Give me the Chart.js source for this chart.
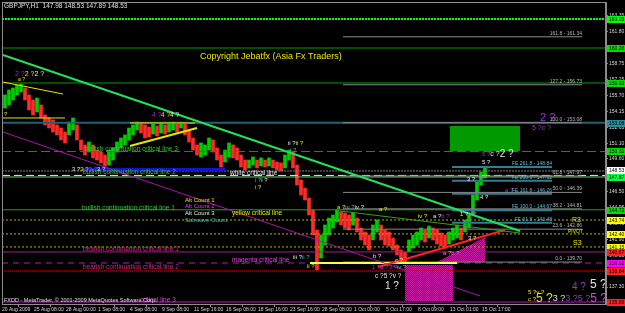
<!DOCTYPE html>
<html>
<head>
<meta charset="utf-8">
<script src="https://cdn.jsdelivr.net/npm/chart.js@4.4.0/dist/chart.umd.min.js"></script>
<style>
  html, body { margin: 0; padding: 0; background: #000; }
  canvas { display: block; }
</style>
</head>
<body>
<canvas id="chart" width="625" height="313"></canvas>
<script>
// GBPJPY H1, one slot ~ a few hours, high/low
const highs = [
  155.75, 156.23, 156.42, 156.71, 156.80, 156.42, 155.75, 155.27, 155.46, 154.79,
  153.83, 153.54, 153.35, 152.87, 152.58, 152.19, 153.15, 153.54, 152.87, 151.43,
  150.95, 151.23, 150.95, 150.46, 150.27, 149.98, 150.46, 150.66, 151.23, 151.62,
  151.91, 152.58, 152.87, 153.15, 153.06, 152.87, 152.67, 152.96, 152.77, 153.06,
  152.87, 152.96, 153.15, 152.96, 153.15, 152.96, 152.39, 151.62, 150.95, 151.14,
  150.95, 151.62, 151.43, 150.66, 149.98, 150.46, 151.14, 150.95, 150.66, 149.98,
  149.50, 149.50, 149.79, 149.50, 149.70, 149.50, 149.70, 149.50, 149.31, 149.22,
  149.98, 150.46, 150.27, 149.02, 147.58, 146.81, 145.85, 144.70, 142.78, 142.30,
  143.26, 143.93, 144.22, 144.70, 144.51, 144.41, 144.22, 144.41, 143.93, 142.97,
  142.59, 142.30, 143.26, 143.74, 143.26, 142.78, 142.59, 142.01, 141.34, 140.86,
  140.67, 141.82, 142.30, 142.59, 142.97, 142.78, 143.16, 142.97, 142.78, 142.49,
  142.30, 142.59, 142.97, 143.26, 142.97, 143.74, 144.22, 146.14, 147.39, 148.35,
  148.74
];
const lows = [
  154.50, 154.79, 155.27, 155.75, 156.04, 155.27, 154.31, 153.83, 154.12, 153.54,
  152.87, 152.58, 152.19, 151.91, 151.43, 151.14, 151.91, 152.39, 151.43, 150.46,
  149.98, 150.27, 149.70, 149.50, 149.22, 148.93, 149.02, 149.50, 150.27, 150.66,
  150.95, 151.43, 151.91, 152.39, 152.10, 151.62, 151.71, 152.00, 151.81, 152.10,
  152.00, 152.19, 152.39, 152.19, 152.58, 151.91, 151.23, 150.46, 149.98, 149.79,
  149.98, 150.46, 150.27, 149.50, 148.83, 149.31, 149.79, 149.70, 149.50, 148.83,
  148.54, 148.74, 149.02, 148.74, 148.93, 148.83, 148.93, 148.74, 148.54, 148.45,
  148.74, 149.50, 148.74, 147.10, 146.14, 145.66, 144.22, 142.30, 138.94, 140.09,
  141.34, 142.30, 142.97, 143.55, 143.26, 142.97, 142.78, 143.26, 142.59, 141.82,
  141.34, 140.86, 141.82, 142.59, 141.82, 141.34, 141.24, 140.86, 140.38, 139.71,
  139.71, 140.67, 141.05, 141.34, 141.82, 141.63, 142.01, 141.82, 141.43, 141.24,
  141.05, 141.43, 141.82, 142.01, 141.82, 142.59, 142.97, 144.22, 145.66, 147.10,
  147.78
];

// axis labels
const priceTicks = [163.35, 161.80, 160.30, 158.75, 157.25, 155.70, 154.15, 152.65, 151.10,
  149.60, 148.05, 146.50, 144.95, 143.40, 141.90, 140.35, 138.80, 137.30];
const dateLabels = ["20 Aug 2009", "25 Aug 08:00", "28 Aug 00:00", "1 Sep 08:00", "4 Sep 08:00",
  "9 Sep 08:00", "11 Sep 16:00", "16 Sep 08:00", "18 Sep 16:00", "23 Sep 16:00", "28 Sep 08:00",
  "1 Oct 00:00", "5 Oct 17:00", "8 Oct 09:00", "13 Oct 01:00", "15 Oct 17:00"];
const dateTicks = [-0.75, 7.25, 15.25, 23.25, 31.25, 39.25, 47.25, 55.25, 63.25, 71.25, 79.25,
  87.25, 95.25, 103.25, 111.25, 119.25];

// horizontal levels across the whole chart
const levelPrices = [163.05, 160.26, 156.90, 153.08, 150.32, 148.45, 148.02, 147.87, 144.72,
  143.74, 142.40, 141.15, 140.67, 139.61, 138.84, 135.86];
// price tags on the right axis
const tagPrices = [163.05, 160.26, 156.90, 153.08, 150.32, 148.53, 147.87, 144.72, 143.74,
  142.40, 141.15, 140.67, 139.61, 138.84, 135.86];

// fibo retracement 139.70 -> 153.08
const fibLevels = ["0.0", "23.6", "38.2", "50.0", "61.8", "100.0", "127.2", "161.8"];
const fibPrices = [139.70, 142.86, 144.81, 146.39, 147.97, 153.08, 156.73, 161.34];
const fibSpan = [84.5, 144.25];
// fibo expansion
const feLevels = ["261.8", "200.0", "161.8", "100.0", "61.8"];
const fePrices = [148.84, 147.52, 146.26, 144.67, 143.48];
const feSpan = [111.75, 136.75];

// trend lines: [bar, price] -> [bar, price]
const trendLines = [
  [[-0.5, 159.59], [128.75, 142.68]],
  [[83.75, 144.61], [128.75, 142.49]],
  [[-0.5, 152.19], [118.75, 136.44]],
  [[93.25, 139.23], [125, 142.78]],
  [[-0.5, 156.99], [14.5, 155.84]],
  [[-0.5, 153.54], [15, 153.54]],
  [[31.25, 150.85], [48, 152.58]],
  [[31.25, 153.06], [47.5, 153.06]],
  [[76.25, 139.61], [113, 139.61]],
  [[19.5, 148.59], [55, 148.59]]
];

// filled boxes: top edge and base price
const greenBox = [[111.25, 152.77], [128.75, 152.77]];
const greenBoxBase = 150.37;
const pinkBox = [[100, 139.42], [112, 139.42]];
const pinkBoxBase = 135.96;
const pinkWedge = [[108, 139.71], [120, 142.11]];
const pinkWedgeBase = 139.71;

const FONT = '"Liberation Sans", Arial, sans-serif';
const WHITE = "#e6e6e6", YELLOW = "#e6e600", PURPLE = "#a030d0", MAGENTA = "#e040e0",
  TEAL = "#30c0c0", PINK = "#ff70c8", GREEN_T = "#2ec82e", BEAR = "#d0288c";

const levelStyles = [
  { c: "#00ff00", w: 2, d: [2, 1] },
  { c: "#00a000", w: 1 },
  { c: "#00a000", w: 1 },
  { c: "#1d6472", w: 2 },
  { c: "#00a000", w: 1, d: [9, 4] },
  { c: "#808080", w: 1, d: [2, 1] },
  { c: "#e8e8e8", w: 1, d: [8, 4] },
  { c: "#60d060", w: 1 },
  { c: "#22a022", w: 1 },
  { c: "#b4b400", w: 1, d: [2, 2] },
  { c: "#b4b400", w: 1, d: [2, 2] },
  { c: "#b4b400", w: 1, d: [2, 2] },
  { c: "#a02080", w: 1 },
  { c: "#b020b0", w: 1, d: [6, 5] },
  { c: "#e01010", w: 1, d: [1, 1] },
  { c: "#b020b0", w: 1 }
];
const tagColors = ["#00ff00", "#00e000", "#00e000", "#2a8a9a", "#00e000", "#ffffff", "#00ff40",
  "#00e000", "#ffff00", "#ffff00", "#ffff00", "#ff2020", "#ff00ff", "#ff2020", "#ff2020"];
const trendStyles = [
  { c: "#22e05a", w: 2 },
  { c: "#3c9a28", w: 1 },
  { c: "#b010b0", w: 1 },
  { c: "#ff2020", w: 2 },
  { c: "#e6e600", w: 1 },
  { c: "#e6e600", w: 1 },
  { c: "#e6e600", w: 2 },
  { c: "#e6e600", w: 1 },
  { c: "#ffff40", w: 2 },
  { c: "#1414d0", w: 3 }
];

// text placed on the chart, [bar, price]
const notes = [
  { at: [48.75, 159.40], parts: [["Copyright Jebatfx (Asia Fx Traders)", "#e8e800", 9]] },
  { at: [20, 150.56], parts: [["bullish continuation critical line 3", GREEN_T, 6.5]] },
  { at: [19.5, 148.35], parts: [["bullish continuation critical line 2", GREEN_T, 6.5]] },
  { at: [56.25, 148.25], parts: [["white critical line", WHITE, 6.5]] },
  { at: [19.25, 144.89], parts: [["bullish continuation critical line 1", GREEN_T, 6.5]] },
  { at: [56.75, 144.41], parts: [["yellow critical line", YELLOW, 6.5]] },
  { at: [19.5, 140.96], parts: [["bearish continuation critical line 1", BEAR, 6.5]] },
  { at: [56.75, 139.90], parts: [["magenta critical line", MAGENTA, 6.5]] },
  { at: [19.5, 139.23], parts: [["bearish continuation critical line 2", BEAR, 6.5]] },
  { at: [33.75, 136.06], parts: [["critical line 3", MAGENTA, 6.5]] },
  { at: [45, 145.66], parts: [["Alt Count 1", YELLOW, 6]] },
  { at: [45, 145.09], parts: [["Alt Count 2", MAGENTA, 6]] },
  { at: [45, 144.41], parts: [["Alt Count 3", WHITE, 6]] },
  { at: [45, 143.74], parts: [["Subwave Count", TEAL, 6]] },
  { at: [141.75, 143.74], parts: [["R3", YELLOW, 7]] },
  { at: [140.75, 142.59], parts: [["PIVOT", YELLOW, 5]] },
  { at: [142, 141.53], parts: [["S3", YELLOW, 7]] },
  { at: [2.5, 157.77], parts: [["2 ?", PURPLE, 7], ["2 ?", YELLOW, 7], ["2 ?", WHITE, 7]] },
  { at: [3.25, 157.19], parts: [["a ?", YELLOW, 5]] },
  { at: [-0.25, 153.92], parts: [["?", YELLOW, 6]] },
  { at: [36.75, 153.83], parts: [["4 ?", PURPLE, 6.5], ["4 ?", YELLOW, 6.5], ["4 ?", WHITE, 6.5]] },
  { at: [16.75, 148.64], parts: [["3 ?", WHITE, 6], ["3 ?", YELLOW, 6], ["3 ?", PURPLE, 6], ["3 ?", WHITE, 6]] },
  { at: [70.75, 151.14], parts: [["ii ?", WHITE, 6], ["ii ?", YELLOW, 6]] },
  { at: [71.25, 150.46], parts: [["i ?", TEAL, 6]] },
  { at: [62.5, 147.58], parts: [["i ?", TEAL, 6], ["i ?", WHITE, 6]] },
  { at: [62.5, 146.91], parts: [["i ?", YELLOW, 6]] },
  { at: [83, 144.99], parts: [["a ?", YELLOW, 6], ["iv ?", TEAL, 6], ["iv ?", WHITE, 6]] },
  { at: [93.5, 144.80], parts: [["a ?", YELLOW, 6]] },
  { at: [103.25, 144.12], parts: [["iv ?", YELLOW, 6]] },
  { at: [107, 144.12], parts: [["a ?", WHITE, 6], ["b ?", PURPLE, 6]] },
  { at: [113.75, 144.32], parts: [["1 ?", WHITE, 6], ["1 ?", MAGENTA, 6]] },
  { at: [72, 140.19], parts: [["iii ?", WHITE, 6], ["ii ?", TEAL, 6]] },
  { at: [75.5, 139.32], parts: [["ii ?", YELLOW, 6]] },
  { at: [92, 140.28], parts: [["b ?", WHITE, 6]] },
  { at: [97.5, 139.90], parts: [["c ?", WHITE, 6]] },
  { at: [91.75, 139.23], parts: [["1 ?", PURPLE, 6], ["2 ?", MAGENTA, 6], ["3 ?", PURPLE, 6], ["iv ?", TEAL, 6]] },
  { at: [92.5, 138.36], parts: [["c ?", WHITE, 6.5], ["5 ?", WHITE, 6.5], ["v ?", WHITE, 6.5]] },
  { at: [95, 137.40], parts: [["1 ?", WHITE, 10]] },
  { at: [115.75, 142.01], parts: [["3 ?", WHITE, 6]] },
  { at: [109.5, 140.57], parts: [["a ?", PINK, 6], ["b ?", PINK, 6]] },
  { at: [118.75, 145.95], parts: [["4 ?", WHITE, 6]] },
  { at: [115.5, 147.68], parts: [["3 ?", WHITE, 6]] },
  { at: [125, 146.62], parts: [["a ?", PURPLE, 6]] },
  { at: [119.25, 149.31], parts: [["5 ?", WHITE, 6]] },
  { at: [119.25, 150.08], parts: [["5 ?", PURPLE, 6], ["c ?", WHITE, 7], ["2 ?", WHITE, 10]] },
  { at: [133.75, 153.54], parts: [["2 ?", PURPLE, 11]] },
  { at: [131.75, 152.58], parts: [["5 ?", PURPLE, 7], ["c ?", PURPLE, 7]] },
  { at: [130.75, 136.82], parts: [["5 ?", YELLOW, 6], ["v ?", YELLOW, 6]] },
  { at: [130.75, 136.15], parts: [["c ?", YELLOW, 6], ["5", YELLOW, 12], [" ?", YELLOW, 12],
    ["3 ?", WHITE, 9], ["3 ?", PURPLE, 9], ["5 ?", PURPLE, 9], ["5 ?", MAGENTA, 12]] },
  { at: [141.75, 137.30], parts: [["4 ?", PURPLE, 10]] },
  { at: [146.25, 137.50], parts: [["5 ?", WHITE, 12]] }
];

// dotted fill like the terminal's hatched rectangles
function dotPattern(c1, c2) {
  const cv = document.createElement("canvas");
  cv.width = 2; cv.height = 2;
  const g = cv.getContext("2d");
  g.fillStyle = c2; g.fillRect(0, 0, 2, 2);
  g.fillStyle = c1; g.fillRect(0, 0, 1, 1); g.fillRect(1, 1, 1, 1);
  return g.createPattern(cv, "repeat");
}

const xMin = -0.75, xMax = 150.25;
const toPts = arr => arr.map(p => ({ x: p[0], y: p[1] }));
const mid = i => (highs[i] + lows[i]) / 2;
const candleColors = highs.map((h, i) => (i === 0 || mid(i) >= mid(i - 1)) ? "#00cc00" : "#ff2a2a");

const datasets = [];

datasets.push({
  type: "bar",
  data: highs.map((h, i) => ({ x: i, y: [lows[i], h] })),
  backgroundColor: candleColors,
  barThickness: 3,
  order: 30
});

const pinkFill = dotPattern("#c81ea4", "#6a0a60");
[[greenBox, greenBoxBase, "#009a00"], [pinkBox, pinkBoxBase, pinkFill], [pinkWedge, pinkWedgeBase, pinkFill]]
  .forEach(([pts, base, bg]) => {
    datasets.push({
      type: "line", data: toPts(pts), borderWidth: 0, pointRadius: 0,
      fill: { value: base }, backgroundColor: bg, order: 25
    });
  });

levelPrices.forEach((p, i) => {
  const s = levelStyles[i];
  datasets.push({
    type: "line", data: [{ x: xMin, y: p }, { x: xMax, y: p }],
    borderColor: s.c, borderWidth: s.w, borderDash: s.d || [], pointRadius: 0, fill: false, order: 15
  });
});

fibPrices.forEach(p => {
  datasets.push({
    type: "line", data: [{ x: fibSpan[0], y: p }, { x: fibSpan[1], y: p }],
    borderColor: "#8a8a8a", borderWidth: 1, pointRadius: 0, fill: false, order: 14
  });
});

fePrices.forEach(p => {
  datasets.push({
    type: "line", data: [{ x: feSpan[0], y: p }, { x: feSpan[1], y: p }],
    borderColor: "#2f7f92", borderWidth: 2, pointRadius: 0, fill: false, order: 14
  });
});

trendLines.forEach((ln, i) => {
  const s = trendStyles[i];
  datasets.push({
    type: "line", data: toPts(ln), borderColor: s.c, borderWidth: s.w,
    pointRadius: 0, fill: false, order: 5
  });
});

// draws the labels, fibo captions, header lines and axis price tags
const textPlugin = {
  id: "textPlugin",
  afterDatasetsDraw(chart) {
    const { ctx, chartArea, scales: { x, y } } = chart;
    ctx.save();
    ctx.textBaseline = "middle";
    ctx.textAlign = "left";
    notes.forEach(n => {
      let px = x.getPixelForValue(n.at[0]);
      const py = y.getPixelForValue(n.at[1]);
      n.parts.forEach(([txt, color, size]) => {
        ctx.font = size + "px " + FONT;
        ctx.fillStyle = color;
        ctx.fillText(txt, px, py);
        px += ctx.measureText(txt).width;
      });
    });

    ctx.textAlign = "right";
    ctx.textBaseline = "bottom";
    ctx.font = "5px " + FONT;
    ctx.fillStyle = "#b8b8b8";
    fibPrices.forEach((p, i) => {
      ctx.fillText(fibLevels[i] + " - " + p.toFixed(2), x.getPixelForValue(fibSpan[1]), y.getPixelForValue(p) - 1);
    });
    ctx.fillStyle = "#6ab4cc";
    fePrices.forEach((p, i) => {
      ctx.fillText("FE " + feLevels[i] + " - " + p.toFixed(2), x.getPixelForValue(feSpan[1]), y.getPixelForValue(p) - 1);
    });

    ctx.textAlign = "left";
    ctx.textBaseline = "middle";
    ctx.fillStyle = "#e0e0e0";
    ctx.font = "6.5px " + FONT;
    ctx.fillText("GBPJPY,H1  147.98 148.53 147.89 148.53", chartArea.left + 2, chartArea.top + 4);
    ctx.font = "5.5px " + FONT;
    ctx.fillText("FXDD - MetaTrader, \u00a9 2001-2009 MetaQuotes Software Corp.", chartArea.left + 2, chartArea.bottom - 4);
    ctx.restore();
  },
  afterDraw(chart) {
    const { ctx, chartArea, scales: { y } } = chart;
    ctx.save();
    ctx.strokeStyle = "#8c8c8c";
    ctx.lineWidth = 1;
    ctx.strokeRect(chartArea.left + 0.5, chartArea.top + 0.5, chartArea.right - chartArea.left - 1, chartArea.bottom - chartArea.top);
    ctx.font = "5px " + FONT;
    ctx.textBaseline = "middle";
    ctx.textAlign = "left";
    tagPrices.forEach((p, i) => {
      const py = Math.round(y.getPixelForValue(p));
      ctx.fillStyle = tagColors[i];
      ctx.fillRect(chartArea.right + 1, py - 3, 18, 7);
      ctx.fillStyle = "#000";
      ctx.fillText(p.toFixed(2), chartArea.right + 3, py + 0.5);
    });
    ctx.restore();
  }
};

new Chart(document.getElementById("chart").getContext("2d"), {
  type: "bar",
  data: { datasets: datasets },
  options: {
    responsive: false,
    animation: false,
    events: [],
    layout: { padding: { left: 2, top: 2, right: 0, bottom: 0 } },
    plugins: { legend: { display: false }, tooltip: { enabled: false } },
    scales: {
      x: {
        type: "linear",
        min: xMin,
        max: xMax,
        offset: false,
        afterBuildTicks: s => { s.ticks = dateTicks.map(v => ({ value: v })); },
        afterFit: s => { s.height = 9; s.paddingLeft = 0; s.paddingRight = 0; },
        grid: { drawOnChartArea: false, drawTicks: true, tickLength: 3, color: "#8c8c8c" },
        border: { color: "#8c8c8c" },
        ticks: {
          autoSkip: false, maxRotation: 0, align: "start", padding: 0,
          color: "#d8d8d8", font: { family: FONT, size: 5 },
          callback: (v, i) => dateLabels[i]
        }
      },
      y: {
        position: "right",
        min: 135.67,
        max: 164.68,
        afterBuildTicks: s => { s.ticks = priceTicks.map(v => ({ value: v })); },
        afterFit: s => { s.width = 19; s.paddingTop = 0; s.paddingBottom = 0; },
        grid: { drawOnChartArea: false, drawTicks: true, tickLength: 2, color: "#8c8c8c" },
        border: { color: "#8c8c8c" },
        ticks: {
          padding: 1, color: "#d8d8d8", font: { family: FONT, size: 5 },
          callback: v => v.toFixed(2)
        }
      }
    }
  },
  plugins: [textPlugin]
});
</script>
</body>
</html>
